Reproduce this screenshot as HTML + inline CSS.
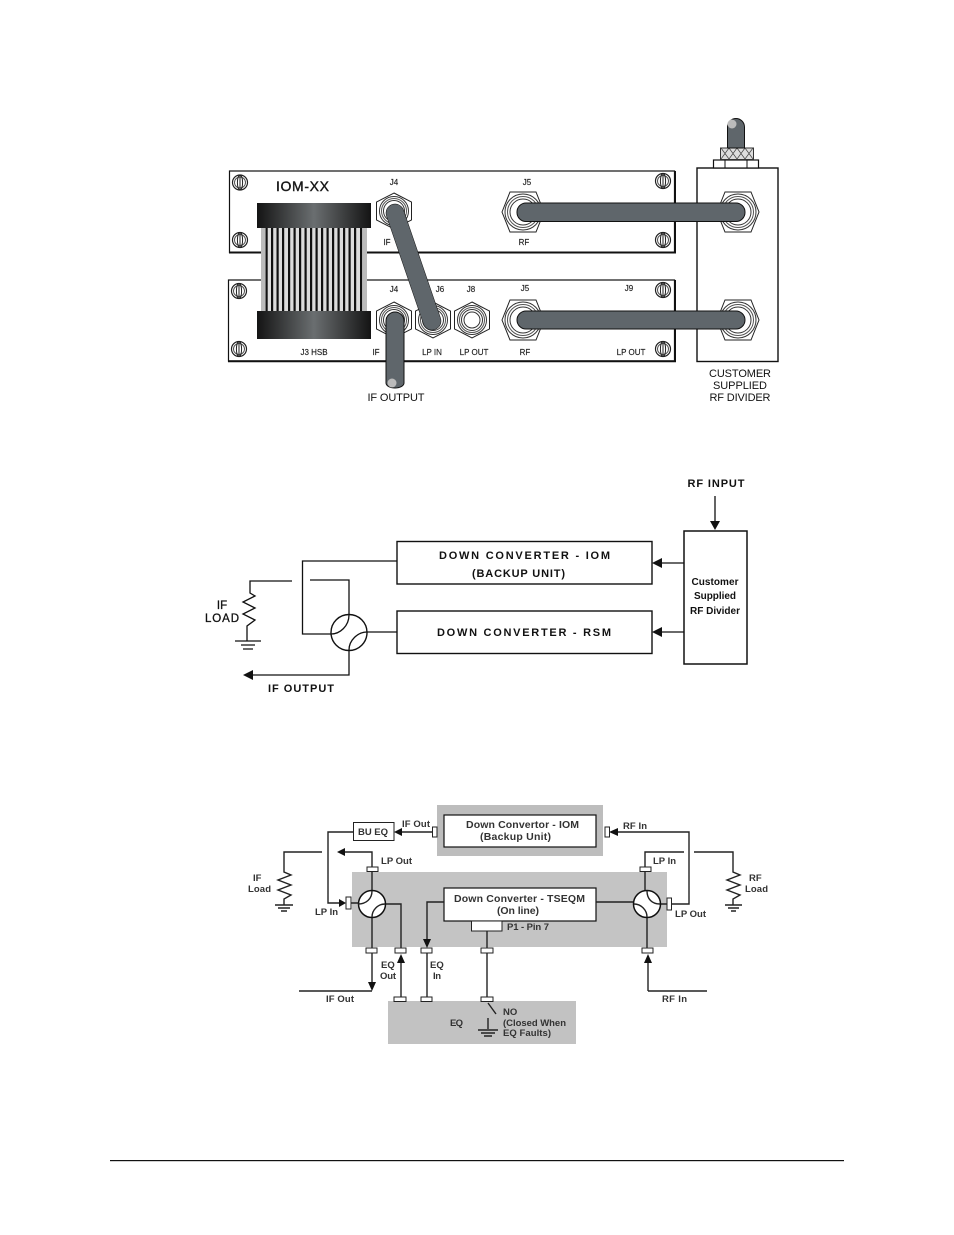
<!DOCTYPE html>
<html><head><meta charset="utf-8"><style>
html,body{margin:0;padding:0;background:#fff}
svg{display:block}
text{font-family:"Liberation Sans",sans-serif;fill:#111}
.s{font-size:8px;text-anchor:middle;fill:#222;stroke:#222;stroke-width:.15}
.m{font-size:11px;text-anchor:middle}
.b{font-weight:bold}
.q{font-size:9.5px;font-weight:bold;fill:#333}
.c{fill:#5f666b;stroke:#111;stroke-width:1}
.w{fill:none;stroke:#111;stroke-width:1.3}
.t{fill:none;stroke:#222;stroke-width:1.4}
.p{fill:#fff;stroke:#222;stroke-width:1}
</style></head><body>
<svg width="954" height="1235" viewBox="0 0 954 1235" xmlns="http://www.w3.org/2000/svg">
<defs>
<linearGradient id="g"><stop offset="0" stop-color="#141414"/><stop offset=".5" stop-color="#6a6e70"/><stop offset="1" stop-color="#141414"/></linearGradient>
<g id="jv"><polygon points="0,-18 17.500,-9 17.500,9 0,18 -17.500,9 -17.500,-9" fill="#fff" stroke="#222" stroke-width="1"/><circle r="14.500" fill="#fff" stroke="#333"/><circle r="12.500" fill="none" stroke="#555"/><circle r="10.500" fill="none" stroke="#333"/></g>
<g id="jh"><polygon points="-21,0 -13,-20 13,-20 21,0 13,20 -13,20" fill="#fff" stroke="#222" stroke-width="1"/><circle r="18" fill="#fff" stroke="#333"/><circle r="15.500" fill="none" stroke="#555"/><circle r="13" fill="none" stroke="#333"/></g>
<g id="sc"><circle r="7.500" fill="#fff" stroke="#222" stroke-width="1.200"/><circle r="5.500" fill="none" stroke="#555"/><ellipse rx="2.600" ry="7.500" fill="none" stroke="#222"/><line y1="-8" y2="8" stroke="#222"/></g>
</defs>

<!-- TOP DIAGRAM -->
<rect x="229.500" y="171" width="445" height="81.500" fill="#fff" stroke="#111" stroke-width="1.200"/>
<path d="M229 252.500H675V171" fill="none" stroke="#111" stroke-width="2"/>
<rect x="228.500" y="280" width="446" height="81" fill="#fff" stroke="#111" stroke-width="1.200"/>
<path d="M228 361.200H675V280" fill="none" stroke="#111" stroke-width="2"/>
<use href="#sc" x="240" y="182.500"/><use href="#sc" x="240" y="240"/><use href="#sc" x="239" y="291"/><use href="#sc" x="239" y="349"/>
<use href="#sc" x="663" y="181"/><use href="#sc" x="663" y="240"/><use href="#sc" x="663" y="290"/><use href="#sc" x="663" y="349"/>
<!-- ribbon -->
<rect x="261" y="225" width="106" height="90" fill="#dcdcdc"/>
<rect x="261" y="225" width="4" height="90" fill="#bbb"/><rect x="363" y="225" width="4" height="90" fill="#bbb"/>
<g fill="#111">
<rect x="265.500" y="228" width="2.200" height="84"/><rect x="271" y="228" width="2.200" height="84"/><rect x="276.500" y="228" width="2.200" height="84"/><rect x="282" y="228" width="2.200" height="84"/><rect x="288" y="228" width="2.200" height="84"/><rect x="293.500" y="228" width="2.200" height="84"/><rect x="299" y="228" width="2.200" height="84"/><rect x="304.500" y="228" width="2.200" height="84"/><rect x="310" y="228" width="2.200" height="84"/><rect x="315.500" y="228" width="2.200" height="84"/><rect x="321" y="228" width="2.200" height="84"/><rect x="326.500" y="228" width="2.200" height="84"/><rect x="332" y="228" width="2.200" height="84"/><rect x="337.500" y="228" width="2.200" height="84"/><rect x="343" y="228" width="2.200" height="84"/><rect x="348.500" y="228" width="2.200" height="84"/><rect x="354" y="228" width="2.200" height="84"/><rect x="360" y="228" width="2.200" height="84"/>
</g>
<rect x="257" y="203" width="114" height="25" fill="url(#g)"/>
<rect x="257" y="311" width="114" height="28" fill="url(#g)"/>
<!-- divider -->
<rect x="697" y="168" width="81" height="193.500" fill="#fff" stroke="#111" stroke-width="1.400"/>
<rect x="713.500" y="160" width="45" height="8" fill="#fff" stroke="#111" stroke-width="1.200"/>
<path d="M725 160V168M747 160V168" stroke="#111"/>
<rect x="720.500" y="148" width="33" height="11.500" fill="#ddd" stroke="#333"/>
<path d="M721 148l8 11M729 148l8 11M737 148l8 11M745 148l8 11M729 148l-8 11M737 148l-8 11M745 148l-8 11M753 148l-8 11" stroke="#444" stroke-width=".7"/>
<path class="c" d="M727.500 148V127a8.500 8.500 0 0 1 17 0V148z"/>
<circle cx="732" cy="124" r="4.500" fill="#bbb"/>
<!-- connectors -->
<use href="#jv" x="394" y="211"/><use href="#jv" x="394" y="320"/><use href="#jv" x="433" y="320"/><use href="#jv" x="472" y="320"/>
<circle cx="472" cy="320" r="8" fill="none" stroke="#333"/>
<use href="#jh" x="523" y="212"/><use href="#jh" x="523" y="320"/><use href="#jh" x="738" y="212"/><use href="#jh" x="738" y="320"/>
<!-- cables -->
<rect class="c" x="517" y="203" width="228" height="18.500" rx="9"/>
<rect class="c" x="517" y="311" width="228" height="18" rx="9"/>
<path d="M395 213L432 321" stroke="#111" stroke-width="18.500" stroke-linecap="round"/>
<path d="M395 213L432 321" stroke="#5f666b" stroke-width="17.500" stroke-linecap="round"/>
<path class="c" d="M386 383V321a9 9 0 0 1 18 0V383a9 5 0 0 1-18 0z"/>
<circle cx="392" cy="383" r="4.500" fill="#bbb"/>
<!-- labels -->
<text x="276" y="191" font-size="14" textLength="53" fill="#222" stroke="#222" stroke-width=".4">IOM-XX</text>
<text class="s" x="394" y="185">J4</text><text class="s" x="387" y="245">IF</text>
<text class="s" x="527" y="185">J5</text><text class="s" x="524" y="245">RF</text>
<text class="s" x="394" y="292">J4</text><text class="s" x="440" y="292">J6</text><text class="s" x="471" y="292">J8</text>
<text class="s" x="525" y="291">J5</text><text class="s" x="629" y="291">J9</text>
<text class="s" x="314" y="355">J3 HSB</text><text class="s" x="376" y="355">IF</text><text class="s" x="432" y="355">LP IN</text><text class="s" x="474" y="355">LP OUT</text><text class="s" x="525" y="355">RF</text><text class="s" x="631" y="355">LP OUT</text>
<text class="m" x="396" y="401" textLength="57">IF OUTPUT</text>
<text class="m" x="740" y="377" textLength="62">CUSTOMER</text>
<text class="m" x="740" y="389" textLength="54">SUPPLIED</text>
<text class="m" x="740" y="401" textLength="61">RF DIVIDER</text>

<!-- MIDDLE DIAGRAM -->
<rect x="397" y="541.500" width="255" height="42.500" fill="#fff" stroke="#111" stroke-width="1.400"/>
<rect x="397" y="611" width="255" height="42.500" fill="#fff" stroke="#111" stroke-width="1.400"/>
<rect x="684" y="531" width="63" height="133" fill="#fff" stroke="#111" stroke-width="1.500"/>
<path class="w" d="M715 496V522M684 563H660M684 632H660"/>
<path d="M710 521H720L715 530zM652 563L662 558V568zM652 632L662 627V637z" fill="#111"/>
<path class="w" d="M397 561H302.500V634H331M292 581H250V593L255 596 243 602 255 608 243 614 255 620 247 626V641M235 641H261M241 645H255M243 649H253M310 580H349V614M349 651V675H250M367 632H397"/>
<path d="M243 675L253 670V680z" fill="#111"/>
<circle cx="349" cy="632.500" r="18" fill="none" stroke="#111" stroke-width="1.400"/>
<path class="w" d="M349 615C349 626 340 634 331 634M349 650C349 640 358 632 367 632"/>
<text class="m b" x="716" y="487" textLength="57" fill="#222">RF INPUT</text>
<text class="m b" x="524.500" y="559" textLength="171" fill="#222">DOWN CONVERTER - IOM</text>
<text class="m b" x="518.500" y="577" textLength="93" fill="#222">(BACKUP UNIT)</text>
<text class="m b" x="524" y="636" textLength="174" fill="#222">DOWN CONVERTER - RSM</text>
<text class="m b" x="715" y="585" textLength="47" style="font-size:10px" fill="#222">Customer</text>
<text class="m b" x="715" y="599" textLength="42" style="font-size:10px" fill="#222">Supplied</text>
<text class="m b" x="715" y="614" textLength="50" style="font-size:10px" fill="#222">RF Divider</text>
<text class="m" x="222" y="609" style="font-size:11.500px" stroke="#111" stroke-width=".3">IF</text>
<text class="m" x="222" y="622" textLength="34" style="font-size:11.500px" stroke="#111" stroke-width=".3">LOAD</text>
<text class="m b" x="301" y="692" textLength="66" fill="#222">IF OUTPUT</text>

<!-- BOTTOM DIAGRAM -->
<g style="filter:blur(.35px)">
<rect x="437" y="805" width="166" height="51" fill="#bdbdbd"/>
<rect x="352" y="872" width="315" height="75" fill="#c4c4c4"/>
<rect x="388" y="1001" width="188" height="43" fill="#c2c2c2"/>
<rect x="444" y="815" width="152" height="32" fill="#fff" stroke="#111" stroke-width="1.200"/>
<rect x="444" y="888" width="152" height="33" fill="#fff" stroke="#111" stroke-width="1.200"/>
<rect x="471.500" y="921" width="30.500" height="10" fill="#fff" stroke="#222"/>
<rect x="353.500" y="822.500" width="40.500" height="18" fill="#fff" stroke="#222"/>
<path class="t" d="M432 832H401M353 832H328V903H341M351 903H358M372 867V852H344M322 852H284V872L291 875 278 880 291 885 278 890 291 895 284 899V905"/>
<path class="t" d="M372 871V891M372 917V948M372 953V985M299 991H372M385 904H401V948M401 997V962M444 902H427V942M427 953V997M487 931V997M487 953V948"/>
<path class="t" d="M488 1003L496 1014M488 1018V1029"/>
<path class="t" d="M596 902H634M645 867V852H684M694 852H733V872L740 875 727 880 740 885 727 890 740 895 733 899V905M645 871V891M647 917V948M648 991V960M648 991H707M660 904H667M671 904H689V832H618"/>
<path d="M394 832L402 828V836zM337 852L345 848V856zM346 903L339 899V907zM372 991L368 982H376zM401 954L397 963H405zM427 948L423 939H431zM648 954L644 963H652zM609 832L618 828V836z" fill="#111"/>
<path class="t" d="M275 905H293M278 908H290M281 911H287M725 905H742M728 908H739M731 911H736M478 1030H498M481 1033H495M484 1036H492"/>
<circle cx="372" cy="904" r="13.500" fill="#fff" stroke="#111" stroke-width="1.500"/>
<path class="t" d="M372 891C372 899 366 904 358 904M372 917C372 910 378 904 385 904"/>
<circle cx="647" cy="904" r="13.500" fill="#fff" stroke="#111" stroke-width="1.500"/>
<path class="t" d="M660 904C652 904 647 899 647 891M634 904C641 904 647 910 647 917"/>
<rect class="p" x="432.500" y="827" width="4.500" height="10"/><rect class="p" x="346" y="897" width="5" height="12"/>
<rect class="p" x="367" y="867" width="11" height="4.500"/><rect class="p" x="366" y="948" width="11" height="5"/><rect class="p" x="395" y="948" width="11" height="5"/><rect class="p" x="421" y="948" width="11" height="5"/><rect class="p" x="481" y="948" width="12" height="5"/>
<rect class="p" x="394" y="997" width="12" height="4.500"/><rect class="p" x="421" y="997" width="11" height="4.500"/><rect class="p" x="481" y="997" width="12" height="4.500"/>
<rect class="p" x="640" y="867" width="11" height="4.500"/><rect class="p" x="642" y="948" width="11" height="5"/><rect class="p" x="667" y="898" width="4.500" height="12"/><rect class="p" x="605" y="827" width="4.500" height="10"/>
<text class="q" x="402" y="827" textLength="28">IF Out</text>
<text class="q" x="466" y="828" textLength="113" style="font-size:10.500px">Down Convertor - IOM</text>
<text class="q" x="480" y="840" textLength="71" style="font-size:10.500px">(Backup Unit)</text>
<text class="q" x="623" y="829" textLength="24">RF In</text>
<text class="q" x="358" y="835" textLength="30">BU EQ</text>
<text class="q" x="381" y="864" textLength="31">LP Out</text>
<text class="q" x="253" y="881">IF</text><text class="q" x="248" y="892" textLength="23">Load</text>
<text class="q" x="315" y="915" textLength="23">LP In</text>
<text class="q" x="454" y="902" textLength="131" style="font-size:10.500px">Down Converter - TSEQM</text>
<text class="q" x="497" y="914" textLength="42" style="font-size:10.500px">(On line)</text>
<text class="q" x="507" y="930" textLength="42">P1 - Pin 7</text>
<text class="q" x="653" y="864" textLength="23">LP In</text>
<text class="q" x="675" y="917" textLength="31">LP Out</text>
<text class="q" x="749" y="881">RF</text><text class="q" x="745" y="892" textLength="23">Load</text>
<text class="q" x="381" y="968">EQ</text><text class="q" x="380" y="979" textLength="16">Out</text>
<text class="q" x="430" y="968">EQ</text><text class="q" x="433" y="979" textLength="8">In</text>
<text class="q" x="326" y="1002" textLength="28">IF Out</text>
<text class="q" x="662" y="1002" textLength="25">RF In</text>
<text class="q" x="450" y="1026" textLength="13">EQ</text>
<text class="q" x="503" y="1015">NO</text>
<text class="q" x="503" y="1026" textLength="63">(Closed When</text>
<text class="q" x="503" y="1036" textLength="48">EQ Faults)</text>
</g>

<!-- footer rule -->
<rect x="110" y="1160" width="734" height="1.200" fill="#111"/>
</svg>
</body></html>
